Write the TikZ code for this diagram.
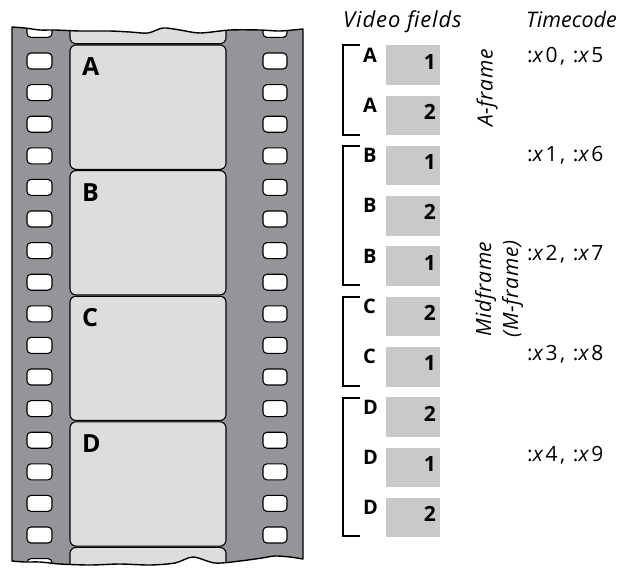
\documentclass[tikz,border=0pt]{standalone}
\usepackage{fontspec}
\setmainfont{Open Sans}
\definecolor{filmdark}{HTML}{939598}
\definecolor{framegray}{HTML}{DCDDDF}
\definecolor{fieldgray}{HTML}{C8C9CA}
\tikzset{
  filmframe/.style={draw=black, line width=1.1pt, fill=framegray, rounded corners=6pt},
  hole/.style={draw=black, line width=1.1pt, fill=white, rounded corners=4pt},
  fieldbox/.style={fill=fieldgray, draw=none, minimum width=54pt, minimum height=39.5pt, inner sep=0pt, anchor=north west},
  framelab/.style={font=\fontsize{25}{25}\selectfont\bfseries, inner sep=0pt, anchor=base west},
  fieldlab/.style={font=\fontsize{20}{20}\selectfont\bfseries, inner sep=0pt, anchor=base west},
  fieldnum/.style={font=\fontsize{21}{21}\selectfont\bfseries, inner sep=0pt, anchor=base east},
  head/.style={font=\fontsize{22}{22}\selectfont\itshape\addfontfeatures{LetterSpace=4}, inner sep=0pt, anchor=base west},
  headtc/.style={font=\fontsize{21.5}{22}\selectfont\itshape, inner sep=0pt, anchor=base west},
  tc/.style={font=\fontsize{21}{21}\selectfont\addfontfeatures{LetterSpace=11}, inner sep=0pt, anchor=base west},
  rotlab/.style={font=\fontsize{21}{27}\selectfont\itshape\addfontfeatures{LetterSpace=3}, inner sep=0pt, rotate=90, align=center},
  bracket/.style={draw=black, line width=1.1pt}
}
\begin{document}
\begin{tikzpicture}[x=1pt,y=-1pt]
\useasboundingbox (0,0) rectangle (623,568);
% film outline path
\def\filmpath{plot[smooth] coordinates {(12,27) (25,28) (40,30) (55,30) (80,31) (110,31) (130,32) (148,33) (163,28) (180,30) (200,33) (230,30) (260,30) (280,31) (303,29)}
  -- plot[smooth] coordinates {(303,559) (290,557) (275,556) (262,558) (240,561) (215,563) (193,557) (175,563) (150,565) (120,564) (90,565) (60,564) (40,562) (25,562) (12,561)} -- cycle}
\fill[filmdark] \filmpath;
\begin{scope}
  \clip \filmpath;
  \foreach \k in {-1,...,4} {
    \pgfmathsetmacro\ft{45+125.6*\k}
    \path[filmframe] (70,\ft) rectangle (226,\ft+125.6-1.3);
  }
  \foreach \k in {-1,...,16} {
    \pgfmathsetmacro\ht{53+31.6*\k}
    \path[hole] (27,\ht) rectangle (52,\ht+16);
    \path[hole] (263,\ht) rectangle (287,\ht+16);
  }
\end{scope}
\draw[line width=1.4pt, line join=round] \filmpath;
% frame labels
\node[framelab] (fa) at (82,75) {A};
\node[framelab] (fb) at (82,201) {B};
\node[framelab] (fc) at (82,326) {C};
\node[framelab] (fd) at (82,452) {D};
% headings
\node[head] (hv) at (343,27) {Video fields};
\node[headtc] (ht) at (526,27) {Timecode};
% field boxes
\foreach \k/\l/\n in {0/A/1,1/A/2,2/B/1,3/B/2,4/B/1,5/C/2,6/C/1,7/D/2,8/D/1,9/D/2} {
  \pgfmathsetmacro\t{45+50.3*\k}
  \node[fieldbox] (box\k) at (386,\t) {};
  \node[fieldnum] (num\k) at (436,\t+24) {\n};
  \node[fieldlab] (let\k) at (363,\t+17) {\l};
}
% brackets
\coordinate (ga1) at (360,45);  \coordinate (ga2) at (360,135);
\coordinate (gb1) at (360,146); \coordinate (gb2) at (360,285);
\coordinate (gc1) at (360,297); \coordinate (gc2) at (360,386);
\coordinate (gd1) at (360,398); \coordinate (gd2) at (360,536);
\draw[bracket] (ga1) -- ++(-17,0) |- (ga2);
\draw[bracket] (gb1) -- ++(-17,0) |- (gb2);
\draw[bracket] (gc1) -- ++(-17,0) |- (gc2);
\draw[bracket] (gd1) -- ++(-17,0) |- (gd2);
% rotated labels
\node[rotlab] (af) at (487,88) {A-frame};
\node[rotlab] (mf) at (499,289) {Midframe\\(M-frame)};
% timecodes
\node[tc] (t0) at (527,62) {:\textit{x}0, :\textit{x}5};
\node[tc] (t1) at (527,161) {:\textit{x}1, :\textit{x}6};
\node[tc] (t2) at (527,260) {:\textit{x}2, :\textit{x}7};
\node[tc] (t3) at (527,360) {:\textit{x}3, :\textit{x}8};
\node[tc] (t4) at (527,461) {:\textit{x}4, :\textit{x}9};
\end{tikzpicture}
\end{document}
